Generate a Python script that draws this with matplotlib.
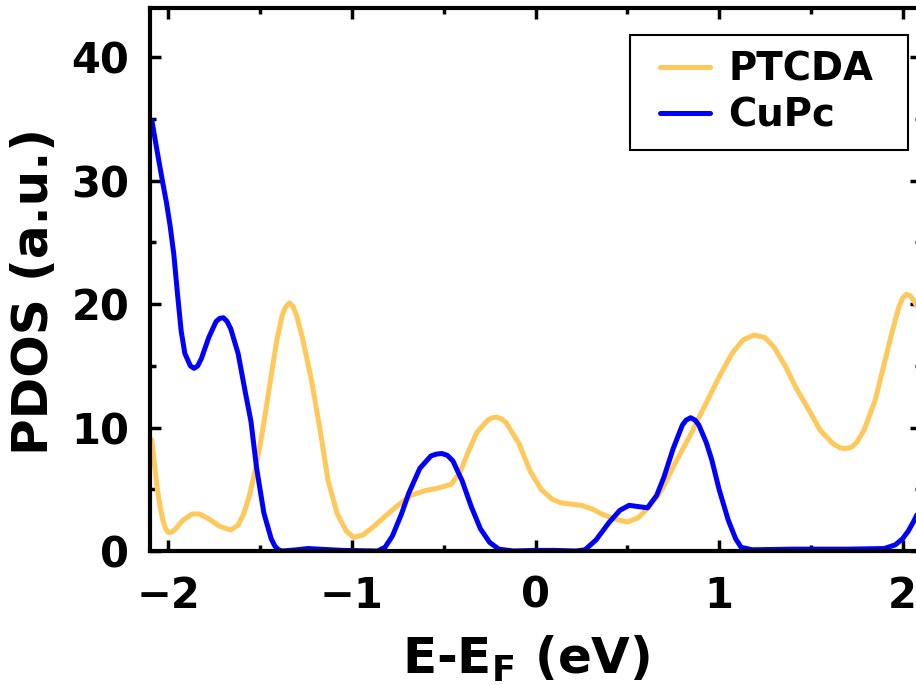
import numpy as np
import matplotlib.pyplot as plt
from matplotlib.patches import Rectangle

# PDOS
ptcda_e = [-2.09, -2.075, -2.06, -2.045, -2.03, -2.015, -2.00, -1.98, -1.96, -1.92,
           -1.87, -1.83, -1.78, -1.72, -1.66, -1.62, -1.59, -1.56, -1.53, -1.50,
           -1.47, -1.44, -1.41, -1.38, -1.36, -1.34, -1.32, -1.30, -1.27, -1.22,
           -1.17, -1.13, -1.08, -1.03, -0.99, -0.94, -0.88, -0.82, -0.75, -0.68,
           -0.60, -0.53, -0.46, -0.41, -0.37, -0.32, -0.26, -0.235, -0.21, -0.185,
           -0.16, -0.09, -0.03, 0.03, 0.09, 0.14, 0.25, 0.31, 0.36, 0.43,
           0.50, 0.56, 0.62, 0.69, 0.76, 0.84, 0.92, 1.00, 1.07, 1.13,
           1.19, 1.25, 1.30, 1.36, 1.42, 1.49, 1.55, 1.62, 1.66, 1.69,
           1.72, 1.75, 1.79, 1.85, 1.90, 1.94, 1.98, 2.00, 2.02, 2.04, 2.06, 2.09]
ptcda = [9.0, 7.0, 5.0, 3.6, 2.5, 1.8, 1.5, 1.55, 1.8, 2.5,
         3.0, 3.0, 2.6, 2.0, 1.7, 2.1, 3.0, 4.4, 6.3, 8.6,
         11.3, 14.2, 17.0, 19.1, 19.8, 20.1, 19.8, 19.0, 17.3, 13.8,
         9.5, 5.7, 3.0, 1.6, 1.1, 1.3, 2.0, 2.8, 3.7, 4.5,
         4.9, 5.1, 5.4, 6.4, 7.9, 9.6, 10.6, 10.8, 10.85, 10.7,
         10.4, 8.7, 6.5, 5.0, 4.2, 3.9, 3.7, 3.4, 3.0, 2.6,
         2.35, 2.7, 3.6, 5.0, 7.1, 9.3, 11.7, 14.1, 16.0, 17.1,
         17.5, 17.3, 16.5, 15.0, 13.2, 11.4, 9.8, 8.7, 8.35, 8.3,
         8.4, 8.8, 9.8, 12.2, 15.2, 17.6, 19.8, 20.5, 20.8, 20.7, 20.3, 19.5]

cupc_e = [-2.09, -2.06, -2.03, -2.01, -1.99, -1.97, -1.95, -1.93, -1.91, -1.88,
          -1.86, -1.84, -1.82, -1.78, -1.74, -1.72, -1.70, -1.68, -1.66, -1.62,
          -1.58, -1.55, -1.52, -1.48, -1.44, -1.42, -1.40, -1.38, -1.30, -1.24,
          -1.18, -1.05, -0.86, -0.82, -0.78, -0.73, -0.69, -0.63, -0.57, -0.54,
          -0.51, -0.48, -0.45, -0.40, -0.35, -0.30, -0.25, -0.20, -0.12, 0.00,
          0.10, 0.22, 0.27, 0.33, 0.40, 0.46, 0.51, 0.56, 0.61, 0.66,
          0.70, 0.75, 0.80, 0.82, 0.845, 0.87, 0.89, 0.93, 0.96, 1.00,
          1.05, 1.09, 1.12, 1.18, 1.40, 1.70, 1.90, 1.96, 2.00, 2.03,
          2.06, 2.09]
cupc = [34.9, 32.3, 29.8, 28.2, 26.3, 24.0, 20.8, 17.8, 16.0, 15.0,
        14.8, 15.0, 15.6, 17.3, 18.6, 18.85, 18.9, 18.6, 18.0, 16.0,
        12.8, 10.5, 6.8, 3.1, 1.0, 0.4, 0.1, 0.0, 0.1, 0.2,
        0.15, 0.05, 0.0, 0.3, 1.2, 3.0, 4.7, 6.7, 7.7, 7.85,
        7.9, 7.75, 7.3, 5.7, 3.6, 1.8, 0.7, 0.15, 0.0, 0.05,
        0.05, 0.0, 0.1, 0.9, 2.3, 3.3, 3.7, 3.6, 3.5, 4.5,
        6.0, 8.3, 10.2, 10.6, 10.8, 10.6, 10.2, 8.8, 7.4, 5.0,
        2.5, 1.0, 0.3, 0.1, 0.15, 0.15, 0.2, 0.5, 1.0, 1.6,
        2.4, 3.3]

plt.rcParams['font.family'] = 'DejaVu Sans'
plt.rcParams['font.weight'] = 'bold'
plt.rcParams['mathtext.default'] = 'bf'

fig = plt.figure(figsize=(9.16, 6.85), dpi=100)
ax = fig.add_axes([150 / 916, 1 - 551 / 685, 771 / 916, 543 / 685])

ax.plot(ptcda_e, ptcda, color='#FFC85A', lw=3.6, label='PTCDA',
        solid_joinstyle='round', solid_capstyle='round')
ax.plot(cupc_e, cupc, color='#0000FF', lw=3.6, label='CuPc',
        solid_joinstyle='round', solid_capstyle='round')

ax.set_xlim(-2.1, 2.1)
ax.set_ylim(0, 44)
ax.set_xticks([-2, -1, 0, 1, 2])
ax.set_xticks(np.arange(-1.5, 2.0, 1.0), minor=True)
ax.set_yticks([0, 10, 20, 30, 40])
ax.set_yticks([5, 15, 25, 35], minor=True)
ax.tick_params(which='both', direction='in', top=True, right=True, width=2.5)
ax.tick_params(which='major', length=8, labelsize=30)
ax.tick_params(axis='x', which='major', pad=17)
ax.tick_params(axis='y', which='major', pad=15)
ax.tick_params(which='minor', length=4.5)
for s in ax.spines.values():
    s.set_linewidth(3)

ax.set_xlabel('E-E$_\\mathbf{F}$ (eV)', fontsize=36, fontweight='bold')
ax.set_ylabel('PDOS (a.u.)', fontsize=36, fontweight='bold')
ax.xaxis.set_label_coords(0.4877, -0.152)
ax.yaxis.set_label_coords(-0.119, 0.477)

# legend frame drawn by hand so its padding matches
ax.add_patch(Rectangle((0.6226, 0.7385), 0.3604, 0.2118, transform=ax.transAxes,
                       facecolor='white', edgecolor='black', lw=1.5,
                       clip_on=False, zorder=4))
ax.legend(loc='upper left', bbox_to_anchor=(0.6615, 0.922), fontsize=27.8,
          frameon=False, borderpad=0, borderaxespad=0,
          handlelength=1.3, handletextpad=0.47, labelspacing=0.22)

fig.savefig('out.png', dpi=100)
